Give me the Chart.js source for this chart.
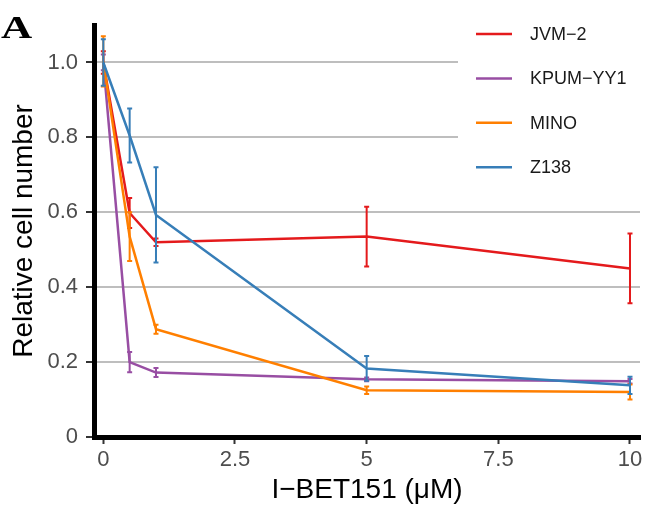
<!DOCTYPE html>
<html>
<head>
<meta charset="utf-8">
<script src="https://cdn.jsdelivr.net/npm/chart.js@4/dist/chart.umd.min.js"></script>
<style>
  html, body { margin: 0; padding: 0; background: #fff; }
  #wrap { width: 646px; height: 530px; }
</style>
</head>
<body>
<div id="wrap"><canvas id="cellChart" width="646" height="530"></canvas></div>
<script>
// Dose (µM) and mean relative cell number per line, with error half-widths
const doses = [0, 0.5, 1, 5, 10];
const cellLines = ['JVM\u22122', 'KPUM\u2212YY1', 'MINO', 'Z138'];

const jvm2Mean  = [1.00, 0.598, 0.520, 0.535, 0.450];
const jvm2Err   = [0.030, 0.040, 0.010, 0.080, 0.093];
const kpumMean  = [1.00, 0.200, 0.172, 0.154, 0.149];
const kpumErr   = [0.021, 0.027, 0.012, 0.005, 0.006];
const minoMean  = [1.003, 0.535, 0.288, 0.125, 0.120];
const minoErr   = [0.067, 0.065, 0.012, 0.010, 0.020];
const z138Mean  = [1.00, 0.805, 0.593, 0.183, 0.138];
const z138Err   = [0.062, 0.072, 0.127, 0.033, 0.023];

const xTicks = [0, 2.5, 5, 7.5, 10];
const yTicks = [0, 0.2, 0.4, 0.6, 0.8, 1.0];

// Set1 palette, same as the original figure
const CORES = ['#E41A1C', '#984EA3', '#FF7F00', '#377EB8'];
const medias = [jvm2Mean, kpumMean, minoMean, z138Mean];
const erros  = [jvm2Err, kpumErr, minoErr, z138Err];

const FONTE = "'Liberation Sans', Arial, sans-serif";

const datasets = cellLines.map((nome, i) => ({
    label: nome,
    data: doses.map((d, j) => ({ x: d, y: medias[i][j] })),
    erro: erros[i],
    borderColor: CORES[i],
    backgroundColor: CORES[i],
    borderWidth: 2.5,
    pointRadius: 0,
    tension: 0,
    // Z138 on top, JVM-2 at the bottom (as in the ggplot output)
    order: cellLines.length - 1 - i
}));

// Error bars drawn right after each line so layering stays the same
const errorBars = {
    id: 'errorBars',
    afterDatasetDraw(chart, args) {
        const ds = chart.data.datasets[args.index];
        const xs = chart.scales.x, ys = chart.scales.y;
        const ctx = chart.ctx;
        ctx.save();
        ctx.strokeStyle = ds.borderColor;
        ctx.lineWidth = 2;
        ds.data.forEach((p, j) => {
            const px = xs.getPixelForValue(p.x);
            const top = ys.getPixelForValue(p.y + ds.erro[j]);
            const bot = ys.getPixelForValue(p.y - ds.erro[j]);
            ctx.beginPath();
            ctx.moveTo(px, top); ctx.lineTo(px, bot);
            ctx.moveTo(px - 2.5, top); ctx.lineTo(px + 2.5, top);
            ctx.moveTo(px - 2.5, bot); ctx.lineTo(px + 2.5, bot);
            ctx.stroke();
        });
        ctx.restore();
    }
};

// Legend inside the panel, top right, with a white box over the grid
const legendaInterna = {
    id: 'legendaInterna',
    beforeDatasetsDraw(chart) {
        const ctx = chart.ctx;
        ctx.save();
        ctx.fillStyle = '#fff';
        ctx.fillRect(458, chart.chartArea.top, 182, 170);
        ctx.font = '18px ' + FONTE;
        ctx.textBaseline = 'middle';
        ctx.fillStyle = '#1a1a1a';
        chart.data.datasets.forEach((ds, i) => {
            const y = 34 + i * 44.4;
            ctx.strokeStyle = ds.borderColor;
            ctx.lineWidth = 2.5;
            ctx.beginPath();
            ctx.moveTo(476, y); ctx.lineTo(512, y);
            ctx.stroke();
            ctx.fillText(ds.label, 530, y + 1);
        });
        ctx.restore();
    },
    afterDraw(chart) {
        // panel letter
        const ctx = chart.ctx;
        ctx.save();
        ctx.fillStyle = '#000';
        ctx.font = "bold 32px 'Liberation Serif', 'Times New Roman', serif";
        ctx.textBaseline = 'alphabetic';
        ctx.translate(1, 38);
        ctx.scale(1.35, 1);
        ctx.fillText('A', 0, 0);
        ctx.restore();
    }
};

new Chart(document.getElementById('cellChart').getContext('2d'), {
    type: 'line',
    data: { datasets },
    plugins: [errorBars, legendaInterna],
    options: {
        responsive: false,
        devicePixelRatio: 1,
        animation: false,
        layout: { padding: { top: 25, right: 6, left: 0, bottom: 0 } },
        plugins: {
            legend: { display: false },
            tooltip: { enabled: false }
        },
        scales: {
            x: {
                type: 'linear',
                min: -0.177,
                max: 10.19,
                afterFit: s => { s.height = 93; },
                afterBuildTicks: s => { s.ticks = xTicks.map(v => ({ value: v })); },
                grid: {
                    drawOnChartArea: false,
                    drawTicks: true,
                    tickLength: 7,
                    tickWidth: 2,
                    tickColor: '#333'
                },
                border: { display: true, color: '#000', width: 5 },
                ticks: {
                    color: '#4D4D4D',
                    font: { size: 22, family: FONTE },
                    padding: 3,
                    maxRotation: 0,
                    callback: v => String(v)
                },
                title: {
                    display: true,
                    text: 'I\u2212BET151 (\u03bcM)',
                    color: '#000',
                    font: { size: 28, family: FONTE },
                    padding: { top: 0, bottom: 23 }
                }
            },
            y: {
                min: 0,
                max: 1.1,
                afterFit: s => { s.width = 94; },
                afterBuildTicks: s => { s.ticks = yTicks.map(v => ({ value: v })); },
                grid: {
                    drawOnChartArea: true,
                    color: '#BEBEBE',
                    lineWidth: 2,
                    drawTicks: true,
                    tickLength: 8,
                    tickWidth: 2,
                    tickColor: '#333'
                },
                border: { display: true, color: '#000', width: 5 },
                ticks: {
                    color: '#4D4D4D',
                    font: { size: 22, family: FONTE },
                    padding: 8,
                    callback: v => (v === 0 ? '0' : v.toFixed(1))
                },
                title: {
                    display: true,
                    text: 'Relative cell number',
                    color: '#000',
                    font: { size: 28, family: FONTE },
                    padding: { top: 7, bottom: 0 }
                }
            }
        }
    }
});
</script>
</body>
</html>
